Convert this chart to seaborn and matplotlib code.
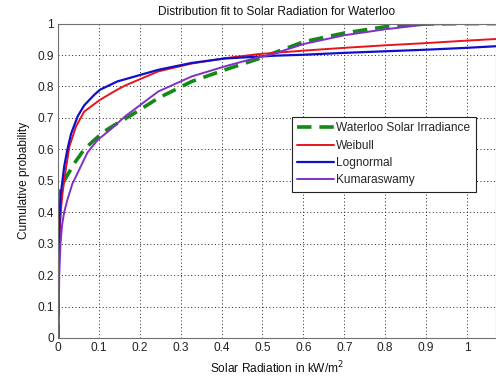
import matplotlib
matplotlib.use("Agg")
import matplotlib.pyplot as plt
import seaborn as sns
import numpy as np

# Empirical CDF of measured irradiance and the three fitted CDFs (kW/m^2)
obs_x = [0.0, 0.0, 0.005, 0.015, 0.04, 0.064, 0.089, 0.113, 0.145, 0.178, 0.245,
         0.327, 0.408, 0.49, 0.518, 0.6, 0.7, 0.8, 0.9, 1.0, 1.07]
obs_y = [0.0, 0.45, 0.475, 0.50, 0.556, 0.60, 0.63, 0.657, 0.683, 0.708, 0.763,
         0.816, 0.853, 0.888, 0.902, 0.942, 0.97, 0.99, 0.999, 1.0, 1.0]

weibull_x = [0.0, 0.002, 0.005, 0.008, 0.011, 0.02, 0.028, 0.044, 0.064, 0.103,
             0.145, 0.164, 0.245, 0.327, 0.408, 0.49, 0.6, 0.7, 0.8, 0.9, 1.0, 1.07]
weibull_y = [0.0, 0.25, 0.36, 0.42, 0.46, 0.545, 0.61, 0.673, 0.72, 0.758,
             0.79, 0.803, 0.848, 0.873, 0.89, 0.903, 0.914, 0.923, 0.931, 0.938, 0.946, 0.951]

lognormal_x = [0.0, 0.001, 0.002, 0.004, 0.007, 0.015, 0.023, 0.032, 0.048, 0.064,
               0.089, 0.103, 0.145, 0.164, 0.245, 0.327, 0.408, 0.53, 0.6, 0.7,
               0.8, 0.9, 1.0, 1.07]
lognormal_y = [0.0, 0.12, 0.26, 0.40, 0.46, 0.545, 0.60, 0.65, 0.705, 0.74,
               0.774, 0.79, 0.816, 0.823, 0.853, 0.875, 0.889, 0.898, 0.901, 0.907,
               0.912, 0.917, 0.923, 0.928]

kumar_x = [0.001, 0.003, 0.006, 0.01, 0.015, 0.023, 0.035, 0.048, 0.072, 0.097,
           0.13, 0.164, 0.245, 0.327, 0.408, 0.49, 0.518, 0.6, 0.7, 0.8, 0.9,
           1.0, 1.07]
kumar_y = [0.0, 0.2, 0.3, 0.36, 0.40, 0.44, 0.49, 0.525, 0.59, 0.63,
           0.665, 0.705, 0.784, 0.832, 0.864, 0.893, 0.90, 0.935, 0.963, 0.982, 0.997,
           1.0, 1.0]

series = [
    ("Waterloo Solar Irradiance", obs_x, obs_y, "#138a13", (4, 2.2), 2.6),
    ("Weibull", weibull_x, weibull_y, "#e8141c", None, 1.4),
    ("Lognormal", lognormal_x, lognormal_y, "#1010c8", None, 1.6),
    ("Kumaraswamy", kumar_x, kumar_y, "#8030c8", None, 1.4),
]

sns.set_theme(style="white")
plt.rcParams["font.family"] = ["Liberation Sans", "DejaVu Sans"]

fig = plt.figure(figsize=(4.96, 3.81), dpi=100)
ax = fig.add_axes([0.117, 0.113, 0.883, 0.825])

for name, xs, ys, color, dashes, lw in series:
    sns.lineplot(x=xs, y=ys, ax=ax, color=color, lw=lw, label=name,
                 sort=False, estimator=None)
    if dashes is not None:
        ax.lines[-1].set_dashes(dashes)

tick_labels = ["0", "0.1", "0.2", "0.3", "0.4", "0.5", "0.6", "0.7", "0.8", "0.9", "1"]
ax.set_xlim(0, 1.071)
ax.set_ylim(0, 1)
ax.set_xticks(np.arange(0, 1.01, 0.1))
ax.set_yticks(np.arange(0, 1.01, 0.1))
ax.set_xticklabels(tick_labels)
ax.set_yticklabels(tick_labels)
ax.tick_params(direction="in", length=3, width=0.6, colors="#555555",
               labelcolor="#222222", labelsize=8.6, pad=3)
ax.grid(True, linestyle=(0, (1, 2.5)), color="#222222", linewidth=0.7)
for s in ax.spines.values():
    s.set_color("#707070")
    s.set_linewidth(0.8)

ax.set_title("Distribution fit to Solar Radiation for Waterloo", fontsize=8.6, pad=6,
             color="#111111")
ax.set_xlabel("Solar Radiation in kW/m$^2$", fontsize=8.6, labelpad=4, color="#111111")
ax.set_ylabel("Cumulative probability", fontsize=8.6, labelpad=5, color="#111111")

leg = ax.legend(loc="upper left", bbox_to_anchor=(0.534, 0.703), fontsize=8.6,
                frameon=True, fancybox=False, framealpha=1, edgecolor="#222222",
                borderpad=0.45, labelspacing=0.45, handlelength=3.1,
                handletextpad=0.15, borderaxespad=0)
leg.get_frame().set_linewidth(0.8)

fig.savefig("out.png", dpi=100)
